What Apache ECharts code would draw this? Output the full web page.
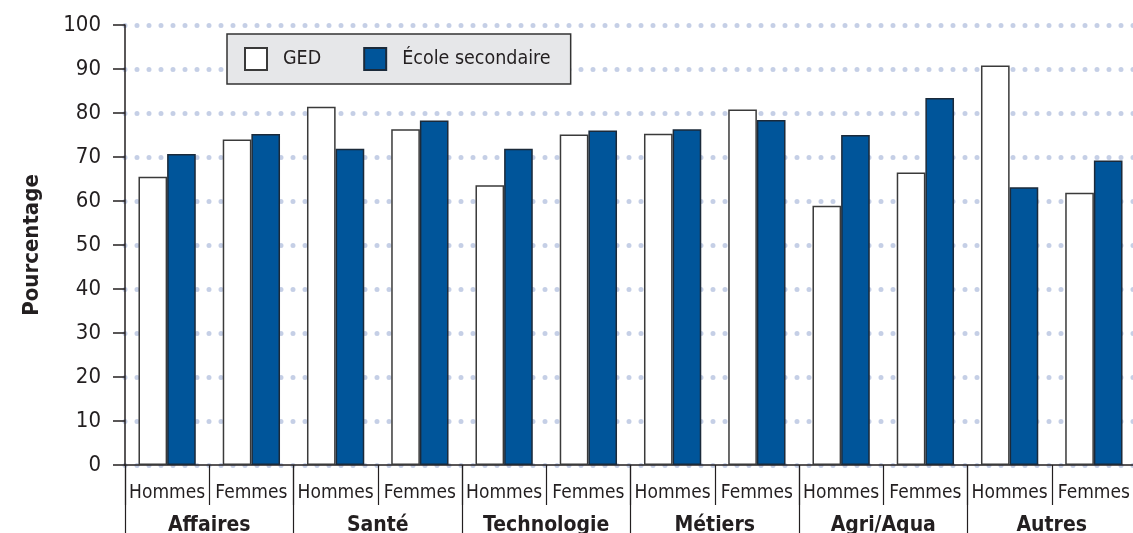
<!DOCTYPE html>
<html><head><meta charset="utf-8">
<script src="https://cdn.jsdelivr.net/npm/echarts@6/dist/echarts.min.js"></script>
<style>html,body{margin:0;padding:0;background:#fff}#c{width:1133px;height:533px}</style>
</head><body><div id="c"></div>
<script>
const subCategories = ['Hommes','Femmes','Hommes','Femmes','Hommes','Femmes','Hommes','Femmes','Hommes','Femmes','Hommes','Femmes'];
const groups = ['Affaires','Santé','Technologie','Métiers','Agri/Aqua','Autres'];
const gedValues = [65.5, 74.0, 81.4, 76.3, 63.6, 75.1, 75.3, 80.8, 58.9, 66.5, 90.8, 61.9];
const secondaryValues = [70.7, 75.2, 71.9, 78.3, 71.9, 76.0, 76.3, 78.4, 75.0, 83.4, 63.1, 69.2];
const yTicks = [0,10,20,30,40,50,60,70,80,90,100];

const FONT = '"DejaVu Sans Condensed","Liberation Sans Narrow","Liberation Sans",sans-serif';
const TXT = '#231f20';
const chart = echarts.init(document.getElementById('c'), null, {renderer:'canvas'});
chart.setOption({
  animation:false,
  textStyle:{fontFamily:FONT,color:TXT},
  legend:{
    left:227, top:34, orient:'horizontal',
    padding:[13,20,13,17], itemGap:42, itemWidth:22, itemHeight:22,
    backgroundColor:'#e6e7e9', borderColor:'#333', borderWidth:1.5,
    textStyle:{fontFamily:FONT,fontSize:19.5,color:TXT,padding:[0,0,0,11]},
    data:[{name:'GED',icon:'rect'},{name:'École secondaire',icon:'rect'}]
  },
  grid:{left:125, right:-3, top:25, bottom:68, containLabel:false, outerBoundsMode:'none'},
  xAxis:[{
    type:'category', data:subCategories, position:'bottom',
    axisLine:{show:true,lineStyle:{color:'#231f20',width:1.5}},
    axisTick:{show:true,interval:0,length:40,lineStyle:{color:'#231f20',width:1.2}},
    axisLabel:{interval:0,fontFamily:FONT,fontSize:19,color:TXT,margin:18,lineHeight:20}
  },{
    type:'category', data:groups, position:'bottom',
    axisLine:{show:false},
    axisTick:{show:true,interval:0,length:70,lineStyle:{color:'#231f20',width:1.2}},
    axisLabel:{interval:0,fontFamily:FONT,fontSize:21,fontWeight:'bold',color:TXT,margin:50,lineHeight:22}
  }],
  yAxis:{
    type:'value', min:0, max:100, interval:10,
    name:'Pourcentage', nameLocation:'middle', nameGap:82, nameRotate:90,
    nameTextStyle:{fontFamily:FONT,fontSize:22,fontWeight:'bold',color:TXT},
    axisLine:{show:true,lineStyle:{color:'#231f20',width:1.5}},
    axisTick:{show:true,length:12,lineStyle:{color:'#231f20',width:1.5}},
    axisLabel:{fontFamily:FONT,fontSize:22,color:TXT,margin:24,
      formatter:v=>yTicks.includes(v)?String(v):''},
    splitLine:{show:true,lineStyle:{color:'#c5cfe6',width:5,type:[0,12],cap:'round'}}
  },
  series:[{
    name:'GED', type:'bar', data:gedValues, xAxisIndex:0,
    barGap:'0%', barCategoryGap:'32%',
    itemStyle:{color:'#ffffff',borderColor:'#3a3a3a',borderWidth:1.5}
  },{
    name:'École secondaire', type:'bar', data:secondaryValues, xAxisIndex:0,
    barGap:'0%', barCategoryGap:'32%',
    itemStyle:{color:'#00559a',borderColor:'#1b2a3a',borderWidth:1.5}
  }]
});
</script></body></html>
